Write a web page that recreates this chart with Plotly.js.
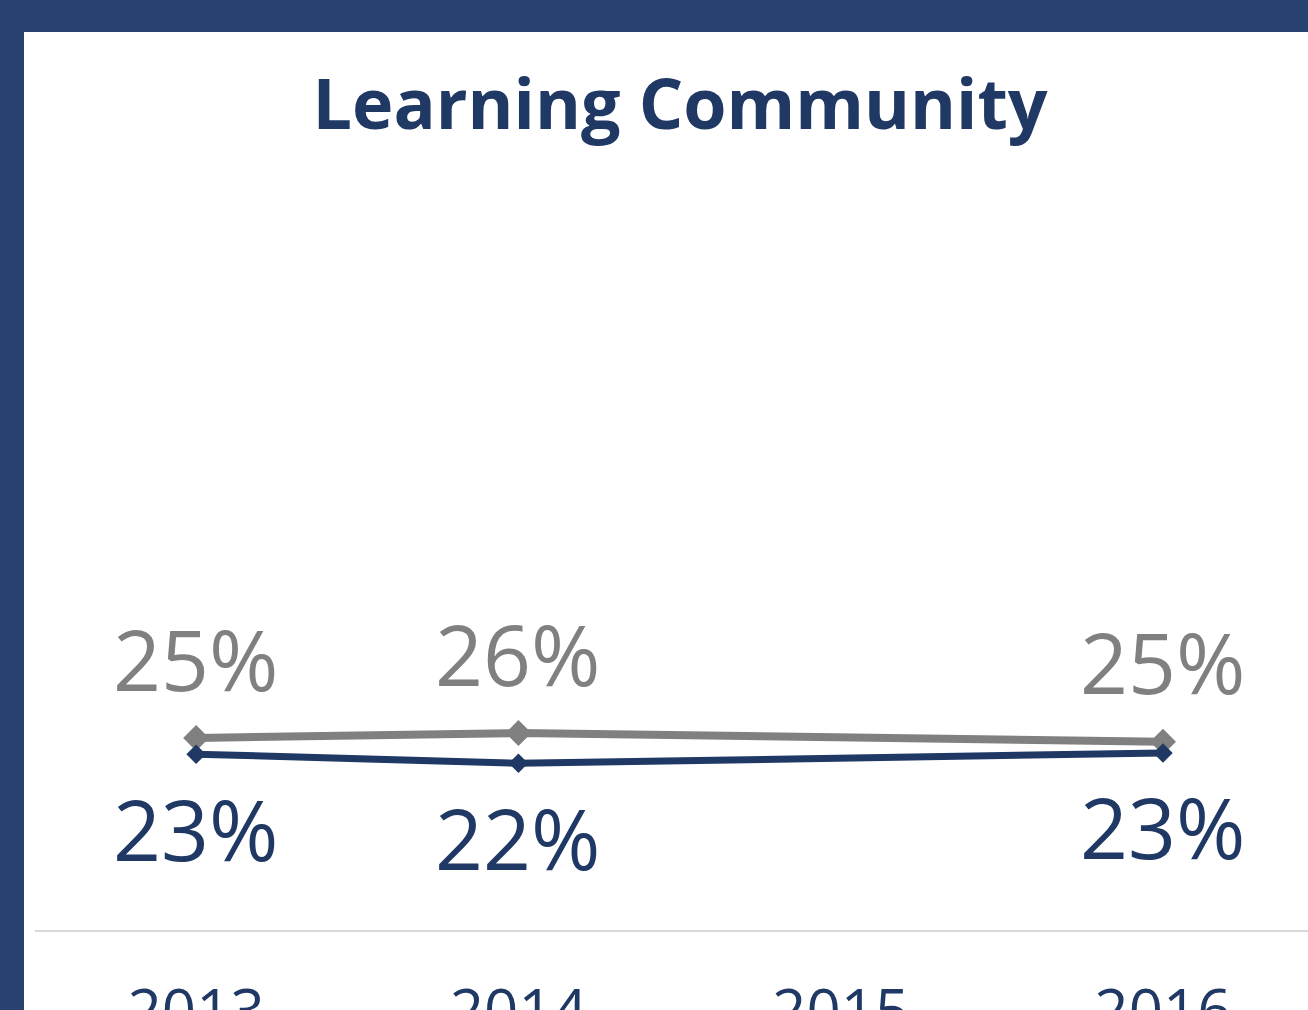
<!DOCTYPE html>
<html>
<head>
<meta charset="utf-8">
<script src="https://cdn.plot.ly/plotly-3.0.1.min.js"></script>
<style>
  html, body { margin: 0; padding: 0; background: #284272; width: 1308px; height: 1010px; overflow: hidden; }
  #chart { position: absolute; left: 24px; top: 32px; width: 1284px; height: 978px; background: #ffffff; }
</style>
</head>
<body>
<div id="chart"></div>
<script>
// Data
const years = ['2013', '2014', '2015', '2016'];
const seriesGray = [0.250, 0.2565, null, 0.245];
const seriesNavy = [0.229, 0.217, null, 0.2305];
const labelsGray = ['25%', '26%', '', '25%'];
const labelsNavy = ['23%', '22%', '', '23%'];
const chartTitle = 'Learning Community';

const NAVY = '#1F3864';
const GRAY = '#808080';
const FONT = 'Open Sans, sans-serif';

const traces = [
  {
    x: years, y: seriesGray, type: 'scatter', mode: 'lines+markers',
    connectgaps: true,
    line: { color: GRAY, width: 8 },
    marker: { symbol: 'diamond', size: 20, color: GRAY },
    cliponaxis: false, hoverinfo: 'skip', showlegend: false
  },
  {
    x: years, y: seriesNavy, type: 'scatter', mode: 'lines+markers',
    connectgaps: true,
    line: { color: NAVY, width: 7 },
    marker: { symbol: 'diamond', size: 15, color: NAVY },
    cliponaxis: false, hoverinfo: 'skip', showlegend: false
  }
];

function labelAnnots(values, labels, color, shift) {
  const out = [];
  values.forEach((v, i) => {
    if (v === null || !labels[i]) return;
    out.push({
      x: i, y: v, xref: 'x', yref: 'y',
      text: labels[i], showarrow: false,
      xanchor: 'center', yanchor: 'middle', yshift: shift,
      font: { family: FONT, size: 84, color: color }
    });
  });
  return out;
}

const annotations = [].concat(
  labelAnnots(seriesGray, labelsGray, GRAY, 80),
  labelAnnots(seriesNavy, labelsNavy, NAVY, -74)
);

const layout = {
  width: 1284, height: 978,
  paper_bgcolor: '#ffffff', plot_bgcolor: '#ffffff',
  margin: { l: 11, r: 0, t: 130, b: 80, pad: 0 },
  title: {
    text: '<b>' + chartTitle + '</b>',
    font: { family: FONT, size: 70, color: NAVY },
    x: 0.511, xanchor: 'center', xref: 'container',
    y: 0.926, yanchor: 'middle', yref: 'container'
  },
  xaxis: {
    type: 'category', range: [-0.5, 3.45],
    showgrid: false, zeroline: false,
    showline: true, linecolor: '#D9D9D9', linewidth: 2,
    ticks: '', ticklabelstandoff: 28,
    tickfont: { family: FONT, size: 60, color: NAVY },
    fixedrange: true
  },
  yaxis: {
    range: [0, 1], showgrid: false, zeroline: false, showline: false,
    showticklabels: false, ticks: '', fixedrange: true
  },
  annotations: annotations,
  showlegend: false
};

Plotly.newPlot('chart', traces, layout, { displayModeBar: false, staticPlot: true });
</script>
</body>
</html>
